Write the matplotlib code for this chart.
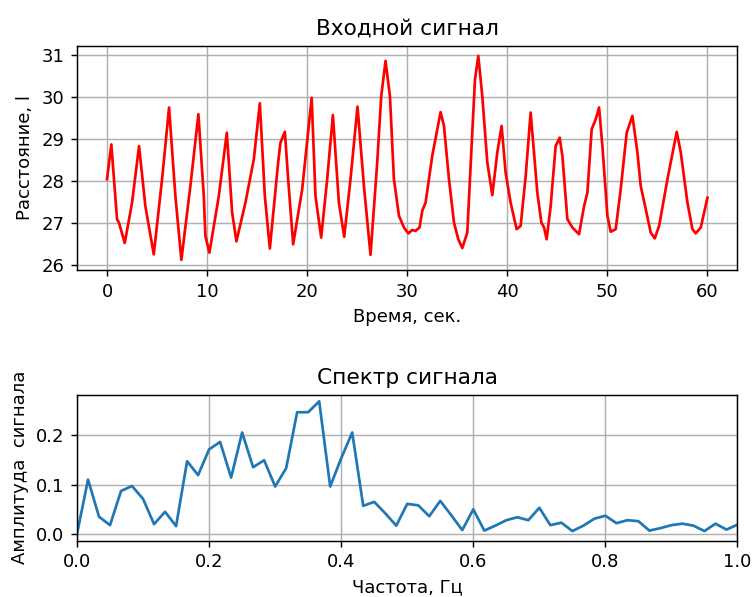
import matplotlib
matplotlib.use("Agg")
import matplotlib.pyplot as plt
import numpy as np

# Input signal (time, sec)
t_sig = [0.0, 0.43, 1.0, 1.2, 1.77, 2.5, 3.2, 3.83, 4.67, 5.5, 6.2, 6.83, 7.43, 8.33,
         9.13, 9.67, 9.83, 10.23, 11.17, 11.97, 12.5, 12.93, 13.83, 14.67, 15.27, 15.77,
         16.27, 17.1, 17.33, 17.77, 18.1, 18.6, 19.5, 20.45, 20.83, 21.4, 22.0, 22.57,
         23.17, 23.7, 24.33, 25.03, 25.67, 26.33, 27.0, 27.4, 27.83, 28.27, 28.67, 29.17,
         29.67, 30.1, 30.5, 30.83, 31.23, 31.5, 31.83, 32.5, 33.33, 33.67, 34.17, 34.67,
         35.1, 35.5, 36.0, 36.43, 36.77, 37.1, 37.5, 38.0, 38.5, 39.0, 39.43, 39.83,
         40.33, 40.93, 41.33, 41.83, 42.33, 43.0, 43.4, 43.67, 43.93, 44.33, 44.83, 45.23,
         45.5, 46.0, 46.5, 47.17, 47.67, 48.0, 48.43, 48.83, 49.17, 49.5, 50.0, 50.33,
         50.83, 51.33, 51.93, 52.5, 53.0, 53.33, 53.83, 54.33, 54.73, 55.17, 56.0, 56.93,
         57.33, 58.0, 58.5, 58.83, 59.33, 60.0]
dist = [28.04, 28.87, 27.09, 27.0, 26.52, 27.48, 28.83, 27.40, 26.25, 28.04, 29.75, 27.64,
        26.12, 27.88, 29.59, 27.64, 26.69, 26.29, 27.64, 29.15, 27.25, 26.56, 27.48, 28.52,
        29.85, 27.64, 26.39, 28.44, 28.91, 29.17, 28.04, 26.49, 27.80, 29.98, 27.64, 26.65,
        28.04, 29.57, 27.48, 26.67, 28.04, 29.77, 27.88, 26.24, 28.44, 30.02, 30.86, 30.02,
        28.04, 27.17, 26.89, 26.75, 26.83, 26.81, 26.89, 27.29, 27.48, 28.6, 29.64, 29.31,
        28.04, 27.01, 26.61, 26.40, 26.77, 28.83, 30.42, 30.98, 30.02, 28.44, 27.66, 28.68,
        29.31, 28.2, 27.48, 26.85, 26.93, 28.1, 29.63, 27.72, 27.01, 26.89, 26.61, 27.40,
        28.83, 29.03, 28.6, 27.09, 26.89, 26.73, 27.40, 27.72, 29.23, 29.47, 29.75, 28.83,
        27.17, 26.79, 26.85, 27.80, 29.15, 29.55, 28.68, 27.88, 27.33, 26.77, 26.63, 26.93,
        28.04, 29.17, 28.68, 27.48, 26.85, 26.75, 26.89, 27.60]

# Spectrum, frequency step 1/60 Hz
spec_amp = [0.0, 0.11, 0.035, 0.018, 0.087, 0.097, 0.071, 0.02, 0.045, 0.016,
            0.147, 0.119, 0.171, 0.186, 0.114, 0.205, 0.135, 0.149, 0.096, 0.133,
            0.246, 0.246, 0.268, 0.096, 0.153, 0.205, 0.057, 0.065, 0.042, 0.017,
            0.061, 0.058, 0.036, 0.067, 0.038, 0.008, 0.05, 0.007, 0.017, 0.028,
            0.034, 0.028, 0.053, 0.018, 0.023, 0.006, 0.017, 0.031, 0.037, 0.022,
            0.028, 0.026, 0.007, 0.012, 0.018, 0.021, 0.017, 0.006, 0.021, 0.009,
            0.019]
freq = [k / 60 for k in range(len(spec_amp))]

DPI = 130
fig = plt.figure(figsize=(752 / DPI, 597 / DPI), dpi=DPI)
ax1 = fig.add_axes([0.1024, 0.5477, 0.8783, 0.3758])
ax2 = fig.add_axes([0.1024, 0.0943, 0.8783, 0.2446])

ax1.plot(t_sig, dist, color='red', linewidth=1.5)
ax1.set_title("Входной сигнал", fontsize=12)
ax1.set_xlabel("Время, сек.")
ax1.set_ylabel("Расстояние, l")
ax1.grid(True)

ax2.plot(freq, spec_amp, color='C0', linewidth=1.5)
ax2.set_xlim(0, 1)
ax2.set_title("Спектр сигнала", fontsize=12)
ax2.set_xlabel("Частота, Гц")
ax2.set_ylabel("Амплитуда  сигнала")
ax2.grid(True)

fig.savefig("out.png", dpi=DPI)
